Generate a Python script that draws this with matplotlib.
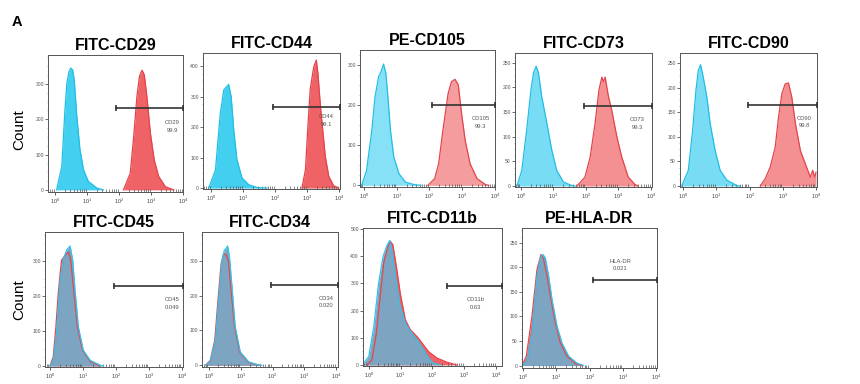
import matplotlib
matplotlib.use("Agg")
import matplotlib.pyplot as plt
from matplotlib.ticker import MultipleLocator, LogLocator, NullFormatter

plt.rcParams['font.family'] = ['Liberation Sans', 'DejaVu Sans']

# histogram outlines: x = log10(fluorescence), y = count
# isotype control (blue) and marker (red)
CD29_BLUE_X = [0.05, 0.21, 0.31, 0.37, 0.44, 0.49, 0.55, 0.60, 0.68, 0.78, 0.89, 1.04, 1.31, 1.51]
CD29_BLUE_Y = [0, 66, 227, 303, 336, 345, 340, 312, 208, 114, 57, 24, 5, 0]
CD29_RED_X = [2.14, 2.35, 2.45, 2.56, 2.64, 2.72, 2.79, 2.87, 2.98, 3.10, 3.24, 3.45, 3.71]
CD29_RED_Y = [0, 47, 142, 265, 322, 339, 326, 265, 161, 85, 38, 9, 0]

CD44_BLUE_X = [-0.07, 0.14, 0.29, 0.40, 0.48, 0.55, 0.63, 0.71, 0.81, 0.97, 1.18, 1.44, 1.75]
CD44_BLUE_Y = [0, 60, 245, 322, 332, 340, 300, 191, 93, 33, 11, 2, 0]
CD44_RED_X = [2.84, 2.95, 3.02, 3.10, 3.21, 3.29, 3.34, 3.42, 3.49, 3.57, 3.68, 3.83, 3.99]
CD44_RED_Y = [0, 60, 191, 325, 398, 420, 376, 267, 191, 104, 38, 8, 0]

CD105_BLUE_X = [-0.07, 0.08, 0.24, 0.34, 0.45, 0.52, 0.60, 0.67, 0.73, 0.81, 0.91, 1.07, 1.27, 1.53, 1.74]
CD105_BLUE_Y = [0, 37, 137, 221, 271, 283, 302, 279, 221, 137, 71, 29, 8, 2, 0]
CD105_RED_X = [1.95, 2.16, 2.28, 2.41, 2.57, 2.67, 2.78, 2.88, 2.98, 3.09, 3.24, 3.45, 3.71, 3.81]
CD105_RED_Y = [0, 17, 54, 137, 229, 258, 264, 250, 179, 112, 54, 17, 2, 0]

CD73_BLUE_X = [-0.12, 0.03, 0.18, 0.31, 0.39, 0.47, 0.54, 0.64, 0.80, 0.95, 1.10, 1.31, 1.57, 1.67]
CD73_BLUE_Y = [0, 32, 114, 195, 230, 243, 230, 182, 127, 73, 32, 8, 1, 0]
CD73_RED_X = [1.72, 1.97, 2.13, 2.28, 2.40, 2.49, 2.54, 2.59, 2.69, 2.79, 2.95, 3.10, 3.30, 3.51, 3.61]
CD73_RED_Y = [0, 18, 59, 127, 195, 221, 212, 221, 182, 155, 100, 59, 18, 3, 0]

CD90_BLUE_X = [-0.05, 0.15, 0.28, 0.38, 0.45, 0.52, 0.60, 0.71, 0.81, 0.96, 1.11, 1.31, 1.61, 1.71]
CD90_BLUE_Y = [0, 32, 113, 194, 235, 247, 222, 181, 127, 72, 32, 12, 1, 0]
CD90_RED_X = [2.32, 2.47, 2.62, 2.77, 2.87, 2.97, 3.07, 3.17, 3.27, 3.38, 3.53, 3.68, 3.83, 3.90, 3.96, 4.00]
CD90_RED_Y = [0, 15, 39, 79, 140, 188, 208, 210, 181, 127, 72, 45, 18, 32, 18, 28]

CD45_BLUE_X = [0.00, 0.10, 0.20, 0.30, 0.41, 0.51, 0.61, 0.69, 0.76, 0.86, 1.01, 1.22, 1.52, 1.62]
CD45_BLUE_Y = [0, 16, 93, 236, 308, 333, 344, 303, 217, 112, 45, 16, 2, 0]
CD45_RED_X = [0.00, 0.10, 0.18, 0.25, 0.35, 0.46, 0.56, 0.63, 0.73, 0.83, 0.99, 1.22, 1.52]
CD45_RED_Y = [0, 26, 112, 207, 303, 317, 327, 303, 207, 112, 45, 13, 0]

CD34_BLUE_X = [-0.10, 0.05, 0.21, 0.31, 0.42, 0.49, 0.55, 0.59, 0.65, 0.73, 0.83, 0.99, 1.25, 1.51, 1.66]
CD34_BLUE_Y = [0, 10, 72, 187, 302, 331, 336, 343, 312, 225, 110, 38, 10, 2, 0]
CD34_RED_X = [-0.10, 0.05, 0.19, 0.29, 0.39, 0.47, 0.55, 0.62, 0.70, 0.81, 0.97, 1.25, 1.61]
CD34_RED_Y = [0, 14, 72, 187, 292, 321, 317, 297, 216, 110, 38, 8, 0]

CD11B_BLUE_X = [-0.16, 0.00, 0.16, 0.31, 0.45, 0.58, 0.66, 0.73, 0.84, 0.99, 1.15, 1.31, 1.52, 1.73, 1.88, 2.04, 2.25]
CD11B_BLUE_Y = [6, 31, 141, 301, 399, 442, 458, 424, 326, 215, 154, 123, 92, 55, 25, 6, 0]
CD11B_RED_X = [-0.05, 0.10, 0.24, 0.35, 0.47, 0.60, 0.68, 0.76, 0.87, 0.99, 1.15, 1.31, 1.52, 1.68, 1.88, 2.15, 2.46, 2.77]
CD11B_RED_Y = [0, 18, 117, 240, 375, 436, 455, 442, 362, 264, 166, 129, 104, 80, 49, 25, 10, 0]

HLADR_BLUE_X = [-0.03, 0.12, 0.27, 0.42, 0.52, 0.60, 0.67, 0.77, 0.87, 1.02, 1.17, 1.37, 1.62, 1.82]
HLADR_BLUE_Y = [0, 9, 67, 182, 219, 226, 219, 182, 135, 80, 46, 19, 5, 0]
HLADR_RED_X = [-0.03, 0.10, 0.27, 0.42, 0.54, 0.62, 0.72, 0.82, 0.97, 1.12, 1.32, 1.57, 1.77]
HLADR_RED_Y = [0, 19, 101, 196, 226, 216, 182, 142, 87, 46, 19, 4, 0]

TITLES = ["FITC-CD29", "FITC-CD44", "PE-CD105", "FITC-CD73", "FITC-CD90",
          "FITC-CD45", "FITC-CD34", "FITC-CD11b", "PE-HLA-DR"]
GATE_NAMES = ["CD29", "CD44", "CD105", "CD73", "CD90", "CD45", "CD34", "CD11b", "HLA-DR"]
GATE_PCT = ["99.9", "99.1", "99.3", "99.3", "99.8", "0.049", "0.020", "0.63", "0.021"]
GATE_Y = [232, 265, 201, 162, 165, 228, 230, 291, 175]
GATE_START = [1.9, 1.93, 2.08, 1.94, 1.94, 1.95, 1.95, 2.46, 2.09]
LABEL_POS = [(3.66, 180), (3.6, 222), (3.57, 157), (3.58, 127), (3.65, 130),
             (3.7, 179), (3.69, 181), (3.35, 226), (2.92, 205)]
Y_STEP = [100, 100, 100, 50, 50, 100, 100, 100, 50]

BLUE = [(CD29_BLUE_X, CD29_BLUE_Y), (CD44_BLUE_X, CD44_BLUE_Y), (CD105_BLUE_X, CD105_BLUE_Y),
        (CD73_BLUE_X, CD73_BLUE_Y), (CD90_BLUE_X, CD90_BLUE_Y), (CD45_BLUE_X, CD45_BLUE_Y),
        (CD34_BLUE_X, CD34_BLUE_Y), (CD11B_BLUE_X, CD11B_BLUE_Y), (HLADR_BLUE_X, HLADR_BLUE_Y)]
RED = [(CD29_RED_X, CD29_RED_Y), (CD44_RED_X, CD44_RED_Y), (CD105_RED_X, CD105_RED_Y),
       (CD73_RED_X, CD73_RED_Y), (CD90_RED_X, CD90_RED_Y), (CD45_RED_X, CD45_RED_Y),
       (CD34_RED_X, CD34_RED_Y), (CD11B_RED_X, CD11B_RED_Y), (HLADR_RED_X, HLADR_RED_Y)]

# layout (pixel boxes l, t, r, b) and axis ranges
BOXES = [(48, 55, 183, 192), (203, 53, 340, 189), (360, 50, 495, 187), (515, 53, 652, 187),
         (680, 53, 817, 187), (45, 232, 183, 367), (202, 232, 338, 367), (363, 228, 502, 366),
         (522, 228, 657, 368)]
XLIMS = [(-0.22, 4.0), (-0.25, 4.03), (-0.12, 4.0), (-0.18, 4.03), (-0.1, 4.03),
         (-0.15, 4.03), (-0.21, 4.05), (-0.18, 4.19), (-0.03, 4.02)]
YLIMS = [(-6, 382), (-3, 443), (-4, 337), (-2, 270), (-2, 271),
         (-3, 384), (-5, 383), (-4, 504), (-5, 280)]
FILL_ALPHA = [0.95, 0.95, 0.6, 0.68, 0.68]

W, H = 860, 384
fig = plt.figure(figsize=(W / 100, H / 100), dpi=100)
fig.patch.set_facecolor("white")

for i in range(9):
    l, t, r, b = BOXES[i]
    ax = fig.add_axes([l / W, 1 - b / H, (r - l) / W, (b - t) / H])
    ax.set_xscale("log")
    bx = [10 ** v for v in BLUE[i][0]]
    rx = [10 ** v for v in RED[i][0]]
    if i < 5:
        a = FILL_ALPHA[i]
        ax.fill_between(bx, BLUE[i][1], color="#38CDF0", alpha=a, lw=0)
        ax.plot(bx, BLUE[i][1], color="#22BDE6", lw=0.9)
        ax.fill_between(rx, RED[i][1], color="#EF5A5E", alpha=a, lw=0)
        ax.plot(rx, RED[i][1], color="#E2444C", lw=0.9)
    else:
        ax.fill_between(rx, RED[i][1], color="#EE6468", lw=0)
        ax.plot(rx, RED[i][1], color="#E8454C", lw=0.9)
        ax.fill_between(bx, BLUE[i][1], color="#7DA4C0", lw=0)
        ax.plot(bx, BLUE[i][1], color="#2EC4EC", lw=0.9)

    x0, x1 = XLIMS[i]
    gx = [10 ** GATE_START[i], 10 ** x1]
    ax.plot(gx, [GATE_Y[i], GATE_Y[i]], color="#333333", lw=1.2,
            marker="|", markersize=5, markeredgewidth=1.2, clip_on=False, zorder=5)
    lx, ly = LABEL_POS[i]
    ax.text(10 ** lx, ly, GATE_NAMES[i] + "\n" + GATE_PCT[i], fontsize=4.2,
            color="#555555", ha="center", va="center", linespacing=1.6)

    ax.set_xlim(10 ** x0, 10 ** x1)
    ax.set_ylim(*YLIMS[i])
    ax.xaxis.set_major_locator(LogLocator(base=10, numticks=10))
    ax.xaxis.set_minor_locator(LogLocator(base=10, subs=range(2, 10), numticks=10))
    ax.xaxis.set_minor_formatter(NullFormatter())
    ax.yaxis.set_major_locator(MultipleLocator(Y_STEP[i]))
    ax.yaxis.set_minor_locator(MultipleLocator(Y_STEP[i] / 4))
    ax.tick_params(axis="x", which="major", direction="out", length=2.5, width=0.6,
                   labelsize=4, colors="#444444", pad=1)
    ax.tick_params(axis="x", which="minor", direction="in", length=2, width=0.5, colors="#555555")
    ax.tick_params(axis="y", which="major", direction="out", length=2, width=0.6,
                   labelsize=3.6, colors="#555555", pad=1)
    ax.tick_params(axis="y", which="minor", direction="out", length=1, width=0.4, colors="#777777")
    for s in ax.spines.values():
        s.set_color("#555555")
        s.set_linewidth(0.7)
    ax.set_title(TITLES[i], fontsize=11.5, fontweight="bold", pad=3.5)

fig.text(12 / W, 1 - 26 / H, "A", fontsize=10.5, fontweight="bold", ha="left", va="baseline")
fig.text(19 / W, 1 - 130 / H, "Count", fontsize=11, rotation=90, ha="center", va="center")
fig.text(19 / W, 1 - 300 / H, "Count", fontsize=11, rotation=90, ha="center", va="center")

fig.savefig("out.png", dpi=100, facecolor="white")
